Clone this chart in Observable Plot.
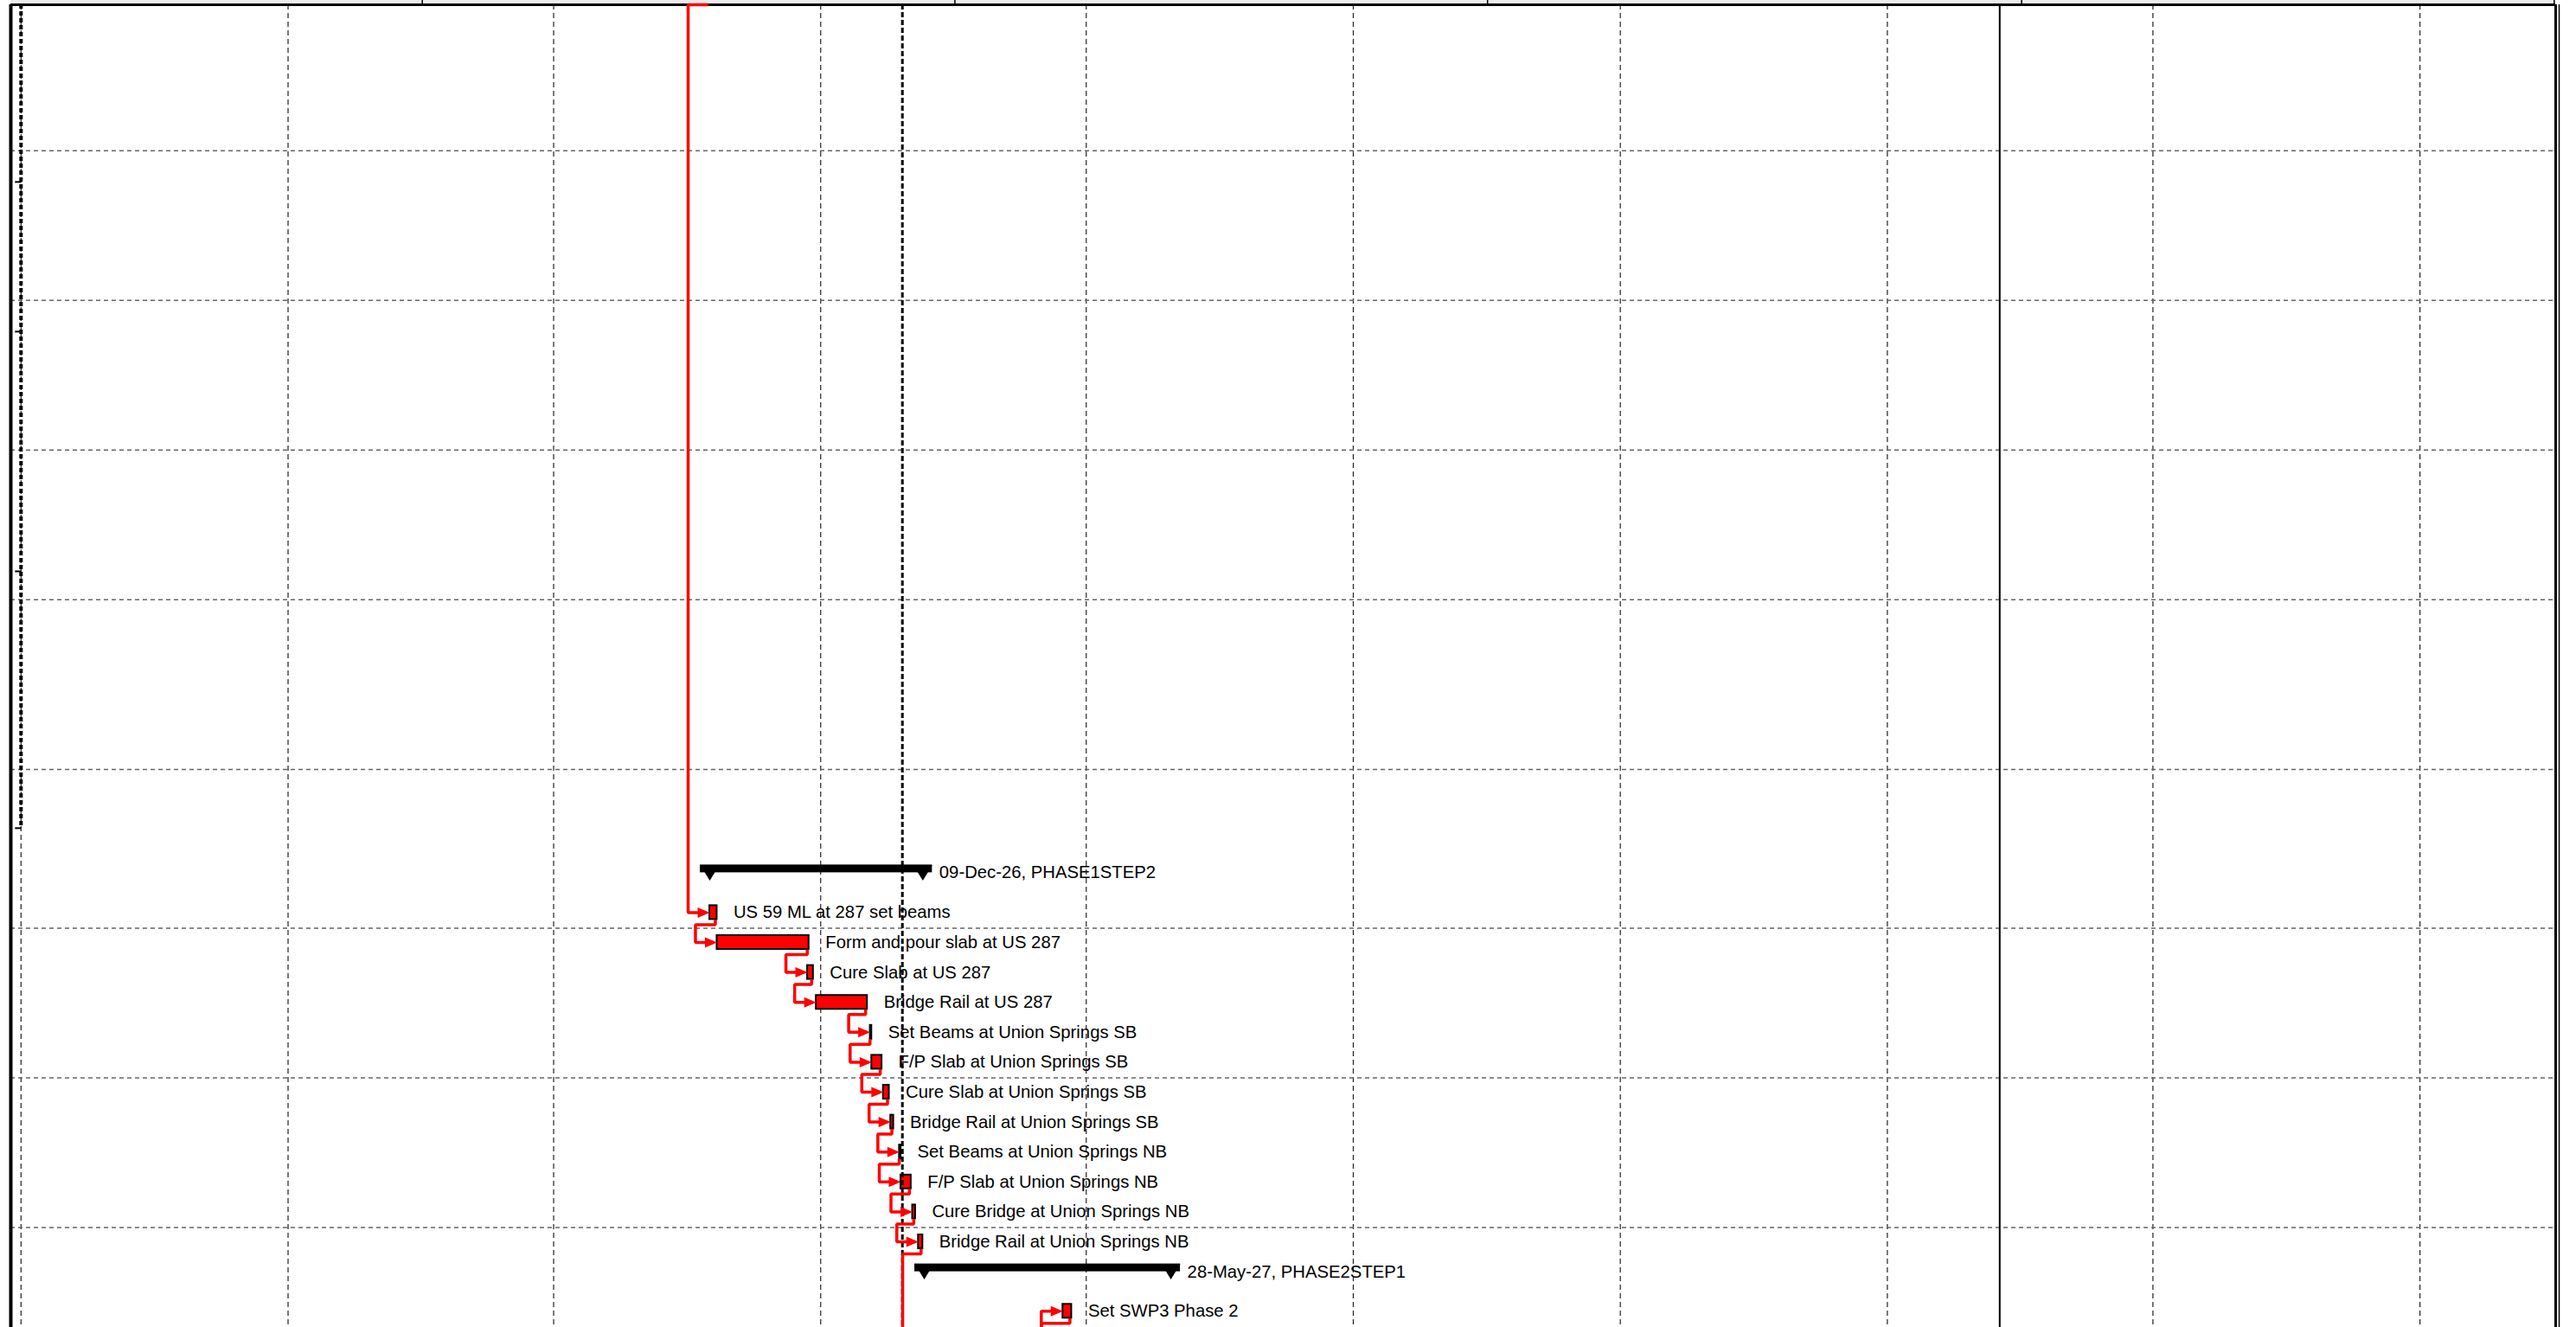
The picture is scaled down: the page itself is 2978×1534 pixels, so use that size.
<!DOCTYPE html>
<html><head><meta charset="utf-8">
<script src="https://cdn.jsdelivr.net/npm/d3@7"></script>
<script src="https://cdn.jsdelivr.net/npm/@observablehq/plot@0.6"></script>
<style>html,body{margin:0;padding:0;background:#fff;overflow:hidden}#chart svg{display:block}</style>
</head><body><div id="chart"></div>
<script>
// ---------- data ----------
const taskNames = [
  "US 59 ML at 287 set beams",
  "Form and pour slab at US 287",
  "Cure Slab at US 287",
  "Bridge Rail at US 287",
  "Set Beams at Union Springs SB",
  "F/P Slab at Union Springs SB",
  "Cure Slab at Union Springs SB",
  "Bridge Rail at Union Springs SB",
  "Set Beams at Union Springs NB",
  "F/P Slab at Union Springs NB",
  "Cure Bridge at Union Springs NB",
  "Bridge Rail at Union Springs NB",
  "Set SWP3 Phase 2"
];
const taskStarts = ["2026-07-17","2026-07-22","2026-09-22","2026-09-28","2026-11-04","2026-11-05","2026-11-13","2026-11-18","2026-11-24","2026-11-25","2026-12-03","2026-12-07","2027-03-16"];
const taskFinishes = ["2026-07-21","2026-09-22","2026-09-25","2026-11-01","2026-11-04","2026-11-11","2026-11-16","2026-11-19","2026-11-24","2026-12-01","2026-12-04","2026-12-09","2027-03-21"];
const taskRows = [30.33,31.33,32.33,33.33,34.33,35.33,36.33,37.33,38.33,39.33,40.33,41.33,43.65];

const summaryNames = ["PHASE1STEP2","PHASE2STEP1"];
const summaryStarts = ["2026-07-17","2026-12-11"];
const summaryFinishes = ["2026-12-09","2027-05-28"];
const summaryRows = [29.0, 42.33];

// relationships: predecessor / successor task index, or hidden rows above / below
const relPred = ["above",0,1,2,3,4,5,6,7,8,9,10,11,"below",12];
const relSucc = [0,1,2,3,4,5,6,7,8,9,10,11,"below",12,"below"];
const relHiddenDate = ["2026-07-16",null,null,null,null,null,null,null,null,null,null,null,"2026-12-11",null,"2027-03-16"];

const gridDates = ["2025-04-01","2025-10-01","2026-04-01","2026-10-01","2027-04-01","2027-10-01","2028-04-01","2028-10-01","2029-04-01","2029-10-01"];
const yearDates = ["2026-01-01","2027-01-01","2028-01-01","2029-01-01","2030-01-01"];
const bandRows = [4.88, 9.88, 14.88, 19.88, 25.55, 30.85, 35.85, 40.85];
const outlineTickRows = [5.92, 10.92, 18.93, 27.51];
const outlineLineEnd = 27.51;
const dataDate = "2026-11-26";
const finishLine = "2028-12-17";
const timeStart = "2025-03-25", timeEnd = "2030-01-02";

// ---------- layout ----------
const parse = d3.utcParse("%Y-%m-%d");
const W = 2978, H = 1534;
const mLeft = 12, mRight = 24, mTop = 5;
const rowPx = 34.6;
const yMax = (H - mTop) / rowPx;
const xDomain = [parse(timeStart), parse(timeEnd)];
const pxPerMs = (W - mLeft - mRight) / (xDomain[1] - xDomain[0]);
const DAY = 864e5;
const shift = (d, px) => new Date(+d + px / pxPerMs);
const endOf = d => new Date(+d + DAY);
const half = 8 / rowPx;
const sumH = 9 / rowPx;
const drop = 14 / rowPx;

const tasks = taskNames.map((name, i) => ({
  name, start: parse(taskStarts[i]), end: endOf(parse(taskFinishes[i])), row: taskRows[i]
}));
const fmt = d3.utcFormat("%d-%b-%y");
const summaries = summaryNames.map((name, i) => ({
  name, start: parse(summaryStarts[i]), end: endOf(parse(summaryFinishes[i])), row: summaryRows[i],
  label: fmt(parse(summaryFinishes[i])) + ", " + name
}));
const sumEnds = summaries.flatMap(s => [{x: s.start, y: s.row - sumH}, {x: s.end, y: s.row - sumH}]);

const linkPts = [];
const arrows = [];
relPred.forEach((p, k) => {
  const s = relSucc[k];
  const succStart = typeof s === "number" ? tasks[s].start : parse(relHiddenDate[k]);
  const jog = shift(succStart, -25);
  const pts = [];
  if (p === "above") {
    pts.push({x: parse(relHiddenDate[k]), y: 0}, {x: jog, y: 0});
  } else if (p === "below") {
    pts.push({x: jog, y: yMax});
  } else {
    const t = tasks[p];
    const xe = shift(t.end, -2);
    pts.push({x: xe, y: t.row + half}, {x: xe, y: t.row + drop}, {x: jog, y: t.row + drop});
  }
  if (typeof s === "number") {
    pts.push({x: jog, y: tasks[s].row}, {x: shift(tasks[s].start, -4), y: tasks[s].row});
    arrows.push({x: tasks[s].start, y: tasks[s].row});
  } else {
    pts.push({x: jog, y: yMax});
  }
  pts.forEach(q => linkPts.push({...q, id: k}));
});

const arrowSym = {draw(ctx) { ctx.moveTo(0, 0); ctx.lineTo(-14, -6); ctx.lineTo(-14, 6); ctx.closePath(); }};
const downTri = {draw(ctx) { ctx.moveTo(-11, 0); ctx.lineTo(11, 0); ctx.lineTo(0, 18); ctx.closePath(); }};
const outlineX = parse(gridDates[0]);

const chart = Plot.plot({
  width: W, height: H,
  marginLeft: mLeft, marginRight: mRight, marginTop: mTop, marginBottom: 0,
  x: {type: "utc", domain: xDomain, axis: null},
  y: {domain: [0, yMax], reverse: true, axis: null},
  style: {fontFamily: "'Liberation Sans', Arial, sans-serif", fontSize: "20px", background: "#fff", overflow: "visible"},
  marks: [
    // header strip (cut-off timescale)
    Plot.rect([0], {x1: xDomain[0], x2: xDomain[1], y1: -mTop / rowPx, y2: 0, fill: "#ececec"}),
    Plot.ruleX(yearDates.map(parse), {y1: -mTop / rowPx, y2: 0, stroke: "#000", strokeWidth: 1.5}),
    // grid
    Plot.ruleX(gridDates.map(parse), {stroke: "#222", strokeWidth: 1.2, strokeDasharray: "6,4"}),
    Plot.ruleY(bandRows, {stroke: "#666", strokeWidth: 1.5, strokeDasharray: "5,4"}),
    Plot.ruleX([outlineX], {y1: 0, y2: outlineLineEnd, stroke: "#000", strokeWidth: 4, strokeDasharray: "5,3"}),
    Plot.link(outlineTickRows, {x1: shift(outlineX, -7), x2: outlineX, y1: d => d, y2: d => d, stroke: "#000", strokeWidth: 2}),
    Plot.ruleX([parse(finishLine)], {stroke: "#000", strokeWidth: 2}),
    // frame
    Plot.ruleY([0], {stroke: "#000", strokeWidth: 3}),
    Plot.ruleX([xDomain[0]], {stroke: "#000", strokeWidth: 4}),
    Plot.ruleX([xDomain[1]], {stroke: "#000", strokeWidth: 3}),
    Plot.ruleX([xDomain[1]], {stroke: "#000", strokeWidth: 1.5, dx: 4}),
    // summary bars
    Plot.rect(summaries, {x1: "start", x2: "end", y1: d => d.row - sumH, y2: "row", fill: "#000", insetLeft: -11, insetRight: -11}),
    Plot.dot(sumEnds, {x: "x", y: "y", symbol: downTri, fill: "#000", stroke: "none"}),
    // task bars
    Plot.rect(tasks, {x1: "start", x2: "end", y1: d => d.row - half, y2: d => d.row + half, fill: "#ff0000", stroke: "#000", strokeWidth: 2}),
    // data date
    Plot.ruleX([parse(dataDate)], {stroke: "#000", strokeWidth: 3, strokeDasharray: "6,3"}),
    // relationships
    Plot.line(linkPts, {x: "x", y: "y", z: "id", stroke: "#ff0000", strokeWidth: 3.5, strokeLinejoin: "miter", strokeLinecap: "butt"}),
    Plot.dot(arrows, {x: "x", y: "y", symbol: arrowSym, fill: "#ff0000", stroke: "none"}),
    // labels
    Plot.text(tasks, {x: "end", y: "row", text: "name", dx: 19, textAnchor: "start", fill: "#000", fontSize: 20.3}),
    Plot.text(summaries, {x: "end", y: "row", text: "label", dx: 19, textAnchor: "start", fill: "#000", fontSize: 20.3})
  ]
});
document.getElementById("chart").appendChild(chart);
</script>
</body></html>
